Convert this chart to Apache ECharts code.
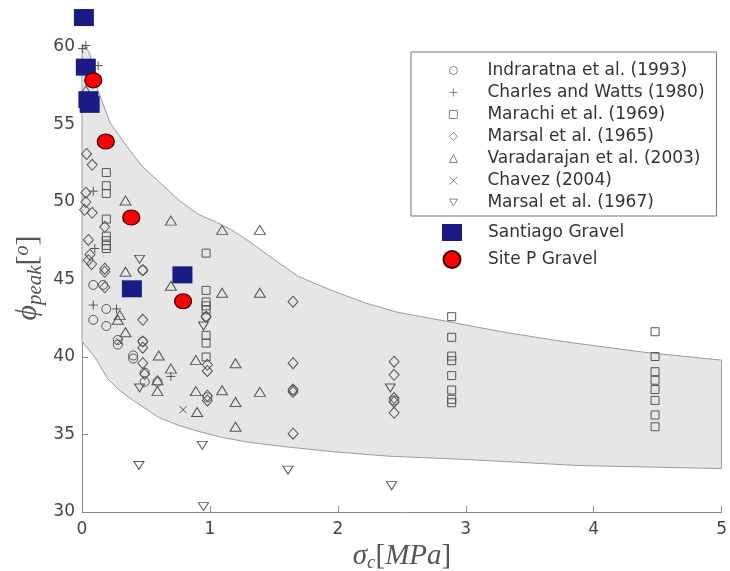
<!DOCTYPE html>
<html><head><meta charset="utf-8">
<script src="https://cdn.jsdelivr.net/npm/echarts@6/dist/echarts.min.js"></script>
<style>html,body{margin:0;padding:0;background:#fff}#c{width:730px;height:571px}</style>
</head><body><div id="c"></div>
<script>
// ---- data ----
const xTicks = [0, 1, 2, 3, 4, 5];
const yTicks = [30, 35, 40, 45, 50, 55, 60];

const bandUpperX = [0, 0.03, 0.06, 0.12, 0.22, 0.35, 0.47, 0.59, 0.76, 0.91, 1.05, 1.17, 1.30, 1.50, 1.69, 1.95, 2.21, 2.46, 2.85, 3.30, 3.76, 4.40, 5];
const bandUpperY = [60.1, 60.0, 59.6, 57.3, 55.1, 53.6, 52.3, 51.4, 50.1, 49.2, 48.7, 48.2, 47.5, 46.3, 45.2, 44.3, 43.5, 42.9, 42.3, 41.6, 41.0, 40.3, 39.8];
const bandLowerX = [0, 0.05, 0.1, 0.2, 0.3, 0.4, 0.6, 0.75, 0.91, 1.1, 1.3, 1.6, 1.95, 2.4, 2.98, 3.88, 5];
const bandLowerY = [41.0, 40.5, 40.0, 38.6, 37.8, 37.2, 36.1, 35.6, 35.2, 34.8, 34.5, 34.2, 33.9, 33.6, 33.4, 33.0, 32.8];

const indraratna = [[0.088,44.65],[0.165,44.65],[0.19,43.1],[0.088,42.4],[0.19,42.0],[0.28,41.1],[0.28,40.8],[0.4,40.1],[0.4,39.9],[0.475,41.0],[0.475,45.6],[0.49,39.0],[0.49,38.4],[0.59,38.4],[0.97,42.6],[0.98,37.4],[1.65,37.85],[2.44,37.2]];
const charlesWatts = [[0.005,59.9],[0.03,60.1],[0.126,58.8],[0.088,50.7],[0.1,47.0],[0.088,43.35],[0.27,43.1],[0.695,38.75]];
const marachi = [[0.19,51.9],[0.19,51.05],[0.19,50.55],[0.19,48.9],[0.19,47.8],[0.19,47.5],[0.19,47.2],[0.19,47.0],
  [0.97,46.7],[0.97,44.3],[0.97,43.55],[0.97,43.3],[0.97,43.05],[0.97,41.4],[0.97,40.9],[0.97,40.0],
  [2.89,42.6],[2.89,41.27],[2.89,40.06],[2.89,39.76],[2.89,38.8],[2.89,37.87],[2.89,37.27],[2.89,37.05],
  [4.48,41.63],[4.48,40.03],[4.48,39.05],[4.48,38.5],[4.48,37.9],[4.48,37.2],[4.48,36.26],[4.48,35.5]];
const marsal1965 = [[0.036,53.1],[0.08,52.4],[0.03,50.6],[0.03,50.0],[0.02,49.5],[0.08,49.3],[0.178,48.4],[0.05,47.55],[0.062,46.6],[0.05,46.25],[0.075,46.0],[0.178,45.7],[0.178,45.5],[0.475,45.6],[0.178,44.5],[0.475,42.4],[0.475,41.0],[0.475,40.6],[0.475,39.6],[0.49,38.9],[0.97,42.6],[0.98,39.5],[0.98,39.1],[0.98,37.5],[0.98,37.2],[1.65,43.57],[1.65,39.6],[1.65,37.9],[1.65,37.75],[1.65,35.05],[2.44,39.7],[2.44,38.85],[2.44,37.35],[2.44,37.1],[2.44,36.4]];
const varadarajan = [[0.03,57.2],[0.34,50.1],[0.695,48.8],[1.095,48.2],[1.39,48.2],[0.34,45.5],[0.695,44.6],[1.095,44.15],[1.39,44.15],[0.295,42.7],[0.28,42.4],[0.34,41.6],[0.6,40.1],[0.695,39.25],[0.89,39.8],[1.2,39.6],[0.59,38.5],[0.59,37.8],[0.89,37.8],[1.095,37.85],[1.39,37.75],[1.2,37.1],[0.9,36.45],[1.2,35.5]];
const chavez = [[0.295,41.0],[0.79,36.6]];
const marsal1967 = [[0.45,46.3],[0.95,42.0],[0.45,38.0],[2.41,38.0],[0.94,34.3],[0.445,33.0],[1.61,32.7],[2.42,31.7],[0.95,30.35]];
const santiago = [[0.015,61.9],[0.03,58.7],[0.05,56.6],[0.06,56.3],[0.39,44.4],[0.785,45.3]];
const siteP = [[0.088,57.85],[0.186,53.9],[0.385,49.0],[0.79,43.6]];

const literatureNames = ['Indraratna et al. (1993)','Charles and Watts (1980)','Marachi et al. (1969)','Marsal et al. (1965)','Varadarajan et al. (2003)','Chavez (2004)','Marsal et al. (1967)'];
const ownNames = ['Santiago Gravel','Site P Gravel'];

// ---- chart ----
const chart = echarts.init(document.getElementById('c'), null, {renderer:'canvas'});
const markerGray = '#555555';
const FONT = 'DejaVu Sans';
function openSeries(name, data, symbol, size) {
  return {
    name, type:'scatter', data, symbol, symbolSize:size, clip:false, silent:true, z:3,
    itemStyle:{color:'rgba(0,0,0,0)', borderColor:markerGray, borderWidth:1, opacity:1},
    emphasis:{disabled:true}
  };
}
const plusPath = 'path://M0,5L10,5M5,0L5,10';
const crossPath = 'path://M0,0L10,10M10,0L0,10';
const triDownPath = 'path://M0,0L10,0L5,8.5Z';

const option = {
  animation:false,
  backgroundColor:'#ffffff',
  grid:{left:82, right:3, top:47, bottom:59, containLabel:false},
  xAxis:{
    type:'value', min:0, max:5, interval:1,
    axisLine:{show:true, lineStyle:{color:'#8a8a8a', width:1}},
    axisTick:{show:true, inside:true, length:6, lineStyle:{color:'#8a8a8a'}},
    axisLabel:{color:'#444', fontSize:17, fontFamily:FONT, margin:9,
      formatter:v => xTicks.includes(v) ? String(v) : ''},
    splitLine:{show:false}
  },
  yAxis:{
    type:'value', min:30, max:60, interval:5,
    axisLine:{show:true, lineStyle:{color:'#8a8a8a', width:1}},
    axisTick:{show:true, inside:true, length:6, lineStyle:{color:'#8a8a8a'}},
    axisLabel:{color:'#444', fontSize:17, fontFamily:FONT, margin:7,
      formatter:v => yTicks.includes(v) ? String(v) : ''},
    splitLine:{show:false}
  },
  legend:[
    {
      data:literatureNames, orient:'vertical', left:411, top:52,
      padding:[10,12,5,38], borderColor:'#777', borderWidth:1, backgroundColor:'#fff',
      itemWidth:8, itemHeight:8, itemGap:5, selectedMode:false,
      itemStyle:{borderWidth:0.8, borderColor:'#666'},
      formatter:n => '{p|}' + n,
      textStyle:{fontSize:17, color:'#333', fontFamily:FONT, rich:{p:{width:25}}}
    },
    {
      data:ownNames, orient:'vertical', left:442, top:224, padding:0,
      itemWidth:20, itemHeight:17, itemGap:9, selectedMode:false,
      formatter:n => '{p|}' + n,
      textStyle:{fontSize:17, color:'#333', fontFamily:FONT, rich:{p:{width:21}}}
    }
  ],
  graphic:[
    {
      type:'text', x:402, y:556, z:10,
      style:{
        text:'{g|σ}{s|c}{b|[}{g|MPa}{b|]}', align:'center', verticalAlign:'middle',
        rich:{
          g:{fontFamily:'Liberation Serif', fontStyle:'italic', fontSize:29, fill:'#555'},
          b:{fontFamily:'Liberation Serif', fontSize:29, fill:'#555'},
          s:{fontFamily:'Liberation Serif', fontStyle:'italic', fontSize:19, fill:'#555', padding:[14,0,0,0]}
        }
      }
    },
    {
      type:'text', x:28, y:278, rotation:Math.PI/2, z:10,
      style:{
        text:'{g|ϕ}{s|peak}{b|[}{o|o}{b|]}', align:'center', verticalAlign:'middle',
        rich:{
          g:{fontFamily:'Liberation Serif', fontStyle:'italic', fontSize:30, fill:'#555'},
          b:{fontFamily:'Liberation Serif', fontSize:30, fill:'#555'},
          s:{fontFamily:'Liberation Serif', fontStyle:'italic', fontSize:21, fill:'#555', padding:[14,0,0,0]},
          o:{fontFamily:'Liberation Serif', fontStyle:'italic', fontSize:20, fill:'#555', padding:[0,0,10,0]}
        }
      }
    }
  ],
  series:[
    {
      type:'custom', silent:true, z:1, clip:false,
      data:[[0,45]],
      renderItem:(params, api) => {
        const pts = [];
        for (let i = 0; i < bandUpperX.length; i++) pts.push(api.coord([bandUpperX[i], bandUpperY[i]]));
        for (let i = bandLowerX.length - 1; i >= 0; i--) pts.push(api.coord([bandLowerX[i], bandLowerY[i]]));
        return {type:'polygon', shape:{points:pts}, style:{fill:'#e6e6e6', stroke:'#9c9c9c', lineWidth:1}};
      }
    },
    openSeries(literatureNames[0], indraratna, 'circle', 9),
    openSeries(literatureNames[1], charlesWatts, plusPath, 9),
    openSeries(literatureNames[2], marachi, 'rect', 8),
    openSeries(literatureNames[3], marsal1965, 'diamond', [10,11]),
    openSeries(literatureNames[4], varadarajan, 'triangle', [11,9]),
    openSeries(literatureNames[5], chavez, crossPath, 7),
    openSeries(literatureNames[6], marsal1967, triDownPath, [10,8]),
    {
      name:ownNames[0], type:'scatter', data:santiago, symbol:'rect', symbolSize:[20,17], clip:false, silent:true, z:4,
      itemStyle:{color:'#1b1b86', borderColor:'#1b1b86', borderWidth:0, opacity:1}
    },
    {
      name:ownNames[1], type:'scatter', data:siteP, symbol:'circle', symbolSize:[17,15], clip:false, silent:true, z:5,
      itemStyle:{color:'#ff0000', borderColor:'#3a0000', borderWidth:1.2, opacity:1}
    }
  ]
};
chart.setOption(option);
</script>
</body></html>
